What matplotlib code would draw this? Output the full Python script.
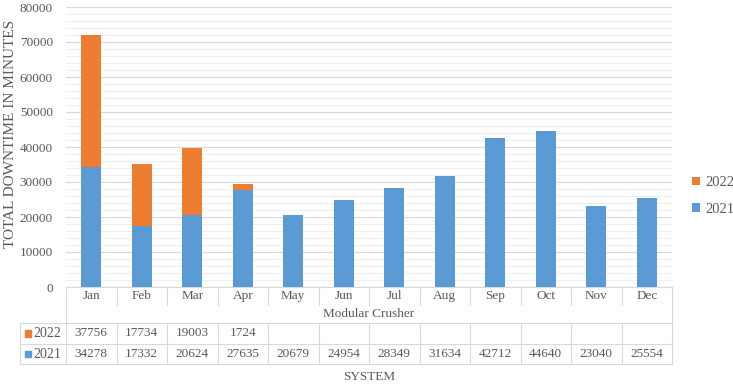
import matplotlib
matplotlib.use("Agg")
import matplotlib.pyplot as plt
from matplotlib.patches import Rectangle
from matplotlib.lines import Line2D
import numpy as np

months = ["Jan", "Feb", "Mar", "Apr", "May", "Jun", "Jul", "Aug", "Sep", "Oct", "Nov", "Dec"]
v2021 = [34278, 17332, 20624, 27635, 20679, 24954, 28349, 31634, 42712, 44640, 23040, 25554]
v2022 = [37756, 17734, 19003, 1724, None, None, None, None, None, None, None, None]
group_label = "Modular Crusher"
ylabel = "TOTAL DOWNTIME IN MINUTES"
xlabel = "SYSTEM"

c2021 = "#5B9BD5"
c2022 = "#ED7D31"
grid_major = "#d9d9d9"
grid_minor = "#efefef"
tcol = "#595959"

plt.rcParams['font.family'] = ['Liberation Serif', 'DejaVu Serif']
fs = 9.5

fig = plt.figure(figsize=(7.33, 3.84), dpi=100)
ax = fig.add_axes([66/733, 1-287/384, (672-66)/733, 280/384])

x = np.arange(len(months))
b2022 = [v if v is not None else 0 for v in v2022]
bars21 = ax.bar(x, v2021, width=0.4, color=c2021, zorder=3, label="2021")
bars22 = ax.bar(x, b2022, width=0.4, bottom=v2021, color=c2022, zorder=3, label="2022")

ax.set_xlim(-0.5, len(months) - 0.5)
ax.set_ylim(0, 80000)
ax.set_yticks(np.arange(0, 80001, 10000))
ax.set_yticks(np.arange(0, 80001, 2000), minor=True)
ax.yaxis.grid(True, which='major', color=grid_major, lw=0.8, zorder=0)
ax.yaxis.grid(True, which='minor', color=grid_minor, lw=0.8, zorder=0)
ax.set_xticks([])
ax.tick_params(axis='y', which='both', length=0, labelsize=fs, labelcolor=tcol, pad=9.5)
for s in ['top', 'right', 'left']:
    ax.spines[s].set_visible(False)
ax.spines['bottom'].set_color(grid_major)
fig.text(11/733, 1-134/384, ylabel, rotation=90, ha='center', va='center', fontsize=11, color=tcol)

# table
trans = ax.get_xaxis_transform()
y_top = 0.0
y_m = -18/280
y_g = -36/280
y_r1 = -57/280
y_r2 = -77/280
xl = -0.5 - 46/50.5
xr = len(months) - 0.5
lk = dict(color=grid_major, lw=0.8, transform=trans, clip_on=False)

for i in range(len(months) + 1):
    xb = i - 0.5
    if i == 0 or i == len(months):
        ax.add_line(Line2D([xb, xb], [y_top, y_r2], **lk))
    else:
        ax.add_line(Line2D([xb, xb], [y_top, y_m], **lk))
        ax.add_line(Line2D([xb, xb], [y_g, y_r2], **lk))
ax.add_line(Line2D([xl, xl], [y_g, y_r2], **lk))
for yy in [y_g, y_r1, y_r2]:
    ax.add_line(Line2D([xl, xr], [yy, yy], **lk))

for i, m in enumerate(months):
    ax.text(i, (y_top + y_m) / 2, m, transform=trans, ha='center', va='center', fontsize=fs, color=tcol)
    if v2022[i] is not None:
        ax.text(i, (y_g + y_r1) / 2, str(v2022[i]), transform=trans, ha='center', va='center', fontsize=fs, color=tcol)
    ax.text(i, (y_r1 + y_r2) / 2, str(v2021[i]), transform=trans, ha='center', va='center', fontsize=fs, color=tcol)
ax.text((len(months) - 1) / 2, (y_m + y_g) / 2, group_label, transform=trans, ha='center', va='center', fontsize=fs, color=tcol)

for yy0, yy1, lab, col in [(y_g, y_r1, "2022", c2022), (y_r1, y_r2, "2021", c2021)]:
    yc = (yy0 + yy1) / 2
    ax.add_patch(Rectangle((xl + 0.1, yc - 0.011), 0.11, 0.022, transform=trans, color=col, clip_on=False))
    ax.text(xl + 0.27, yc, lab, transform=trans, ha='left', va='center', fontsize=10, color=tcol)

ax.text((len(months) - 1) / 2, -90/280, xlabel, transform=trans, ha='center', va='center', fontsize=fs, color=tcol)

leg = fig.legend(handles=[bars22, bars21], labels=["2022", "2021"], loc='center left',
                 bbox_to_anchor=(692/733, 1-196/384), frameon=False, fontsize=10.5,
                 borderaxespad=0, borderpad=0,
                 handlelength=0.55, handleheight=0.55, handletextpad=0.35, labelspacing=0.95)
for t in leg.get_texts():
    t.set_color(tcol)

fig.savefig("out.png", dpi=100)
